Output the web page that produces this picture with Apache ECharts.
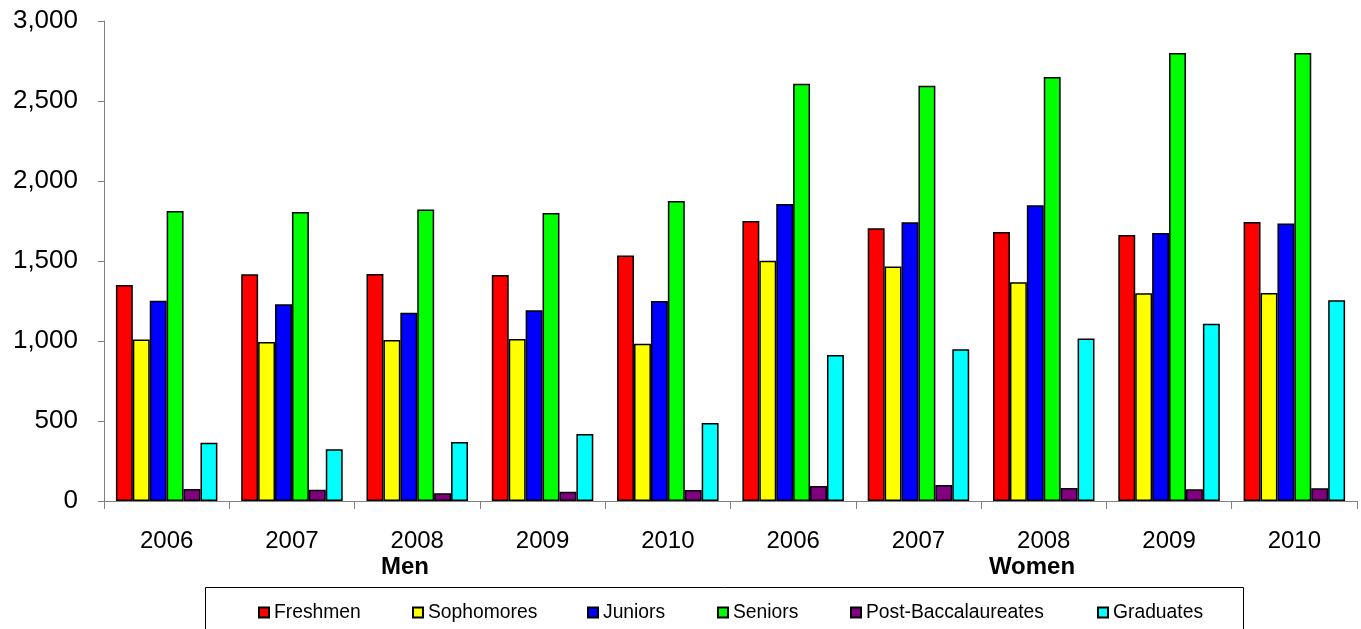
<!DOCTYPE html>
<html><head><meta charset="utf-8">
<script src="https://cdn.jsdelivr.net/npm/echarts@6/dist/echarts.min.js"></script>
<style>html,body{margin:0;padding:0;background:#fff}#c{width:1361px;height:629px}</style>
</head><body><div id="c"></div>
<script>
const groups = ['Men', 'Women'];
const years = ['2006', '2007', '2008', '2009', '2010'];
const seriesNames = ['Freshmen', 'Sophomores', 'Juniors', 'Seniors', 'Post-Baccalaureates', 'Graduates'];
const colors = ['#ff0000', '#ffff00', '#0000ff', '#00ff00', '#800080', '#00ffff'];
// values: Men 2006..2010, then Women 2006..2010
const freshmen   = [1350, 1417, 1419, 1412, 1535, 1750, 1704, 1681, 1662, 1744];
const sophomores = [1010, 994, 1006, 1012, 983, 1502, 1465, 1367, 1298, 1300];
const juniors    = [1252, 1229, 1177, 1192, 1250, 1856, 1742, 1848, 1675, 1735];
const seniors    = [1812, 1806, 1822, 1800, 1875, 2608, 2596, 2650, 2800, 2800];
const postBacc   = [75, 70, 48, 58, 69, 94, 100, 81, 73, 80];
const graduates  = [364, 323, 369, 419, 487, 912, 948, 1015, 1108, 1255];
const yTicks = [0, 500, 1000, 1500, 2000, 2500, 3000];

const values = [freshmen, sophomores, juniors, seniors, postBacc, graduates];
const categories = [];
groups.forEach(g => years.forEach(y => categories.push(g + '|' + y)));

const legendLeft = [258, 412, 587, 717, 850, 1097];
const FONT = 'Liberation Sans, Arial, sans-serif';

const chart = echarts.init(document.getElementById('c'));
chart.setOption({
  animation: false,
  backgroundColor: '#fff',
  textStyle: { fontFamily: FONT, color: '#000' },
  grid: { left: 104, right: 4, top: 21, bottom: 128, containLabel: false },
  legend: seriesNames.map((name, i) => ({
    data: [name],
    top: 603,
    left: legendLeft[i],
    padding: 0,
    itemWidth: 10,
    itemHeight: 10,
    icon: 'rect',
    itemStyle: { borderColor: '#000', borderWidth: 2 },
    textStyle: { fontSize: 19.3, color: '#000', padding: [0, 0, 0, 0] },
    selectedMode: false
  })),
  xAxis: {
    type: 'category',
    data: categories,
    axisLine: { lineStyle: { color: '#808080', width: 1 } },
    axisTick: { show: true, length: 8, lineStyle: { color: '#808080' } },
    axisLabel: { fontSize: 24, color: '#000', margin: 28, formatter: v => v.split('|')[1] },
    splitLine: { show: false }
  },
  yAxis: {
    type: 'value',
    min: yTicks[0],
    max: yTicks[yTicks.length - 1],
    interval: 500,
    axisLine: { show: true, lineStyle: { color: '#808080', width: 1 } },
    axisTick: { show: true, length: 6, lineStyle: { color: '#808080' } },
    axisLabel: { fontSize: 26, color: '#000', margin: 26, formatter: v => v.toLocaleString('en-US') },
    splitLine: { show: false }
  },
  graphic: [
    { type: 'rect', shape: { x: 205.5, y: 587.5, width: 1038, height: 60 }, style: { fill: 'none', stroke: '#000', lineWidth: 1 }, z: -1 },
    { type: 'text', x: 405, y: 567, style: { text: groups[0], font: 'bold 24px ' + FONT, fill: '#000', textAlign: 'center', textVerticalAlign: 'middle' } },
    { type: 'text', x: 1032, y: 567, style: { text: groups[1], font: 'bold 24px ' + FONT, fill: '#000', textAlign: 'center', textVerticalAlign: 'middle' } }
  ],
  series: seriesNames.map((name, i) => ({
    name,
    type: 'bar',
    data: values[i],
    barGap: '0%',
    barCategoryGap: '19%',
    itemStyle: { color: colors[i], borderColor: '#000', borderWidth: 1.5 }
  }))
});
</script></body></html>
